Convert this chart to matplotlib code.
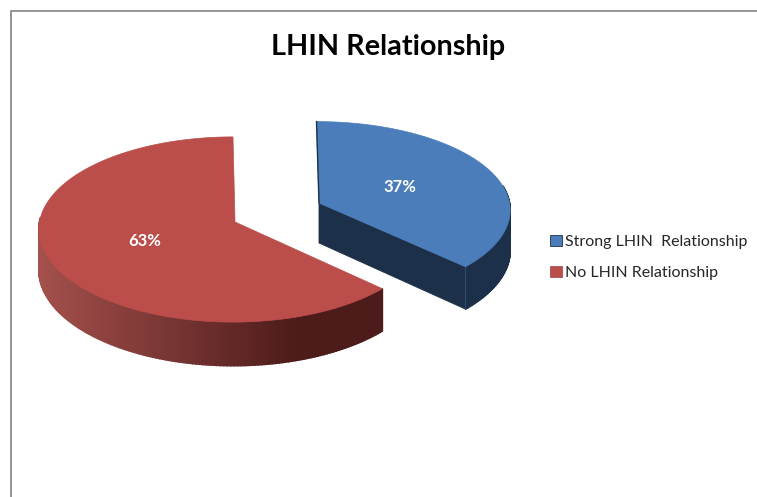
import numpy as np
import matplotlib
matplotlib.use('Agg')
import matplotlib.pyplot as plt
from matplotlib.colors import to_rgb
from matplotlib.patches import Patch

# Data
categories = ['Strong LHIN  Relationship', 'No LHIN Relationship']
values = [37, 63]
labels = ['37%', '63%']

# Look of each slice (pixel layout of the original image)
top_colors = ['#4b7dba', '#bb4e4b']
wall_left = ['#1c3049', '#a4504c']
wall_right = ['#1c3049', '#4c1b1a']
centers = [(316.5, 203), (233, 222)]
apexes = [(319, 203), (235, 222)]
radius_x = [193, 193.5]
radius_y = [88, 92]
label_pos = [(400, 186), (145, 241)]
persp = 0.081
depth = 40

plt.rcParams['font.family'] = ['Lato', 'DejaVu Sans']

fig = plt.figure(figsize=(7.57, 4.97), dpi=100)
ax = fig.add_axes([0, 0, 1, 1])
ax.set_xlim(0, 757)
ax.set_ylim(497, 0)
ax.axis('off')


# Angle is clockwise from 12 o'clock, tilted disc with a bit of perspective
def project(theta, center, rx, ry, drop=0.0):
    u, v = np.sin(theta), np.cos(theta)
    d = 1 + persp * v
    return center[0] + rx * u / d, center[1] - ry * v / d + drop / d


start = 0.0
for i, val in enumerate(values):
    end = start + 2 * np.pi * val / sum(values)
    c, rx, ry, ap = centers[i], radius_x[i], radius_y[i], apexes[i]

    # Outer wall in thin strips so it can shade from left to right
    ang = np.linspace(start, end, 240)
    vis = ang[(ang >= np.pi / 2 - 0.2) & (ang <= 3 * np.pi / 2 + 0.05)]
    c0, c1 = np.array(to_rgb(wall_left[i])), np.array(to_rgb(wall_right[i]))
    for a0, a1 in zip(vis[:-1], vis[1:]):
        x0, y0 = project(a0, c, rx, ry)
        x1, y1 = project(a1, c, rx, ry)
        x2, y2 = project(a1, c, rx, ry, depth)
        x3, y3 = project(a0, c, rx, ry, depth)
        t = np.clip((x0 - 40) / 260, 0, 1)
        col = c0 + (c1 - c0) * t
        ax.fill([x0, x1, x2, x3], [y0, y1, y2, y3], color=col, lw=1.2)

    # Cut face of the blue slice, it looks towards the viewer
    if i == 0:
        xe, ye = project(end, c, rx, ry)
        xb, yb = project(end, c, rx, ry, depth)
        ax.fill([ap[0], xe, xb, ap[0]], [ap[1], ye, yb, ap[1] + depth],
                color=wall_left[i], lw=0.6)
        ax.plot([xe, xb], [ye, yb], color='#2f4d73', lw=0.8)
        ax.plot([c[0], ap[0]], [c[1] - ry / (1 + persp), ap[1]], color='#1c3049', lw=1)

    # Top of the slice
    xs, ys = project(ang, c, rx, ry)
    ax.fill(np.r_[ap[0], xs], np.r_[ap[1], ys], color=top_colors[i], lw=0.5)
    ax.text(label_pos[i][0], label_pos[i][1] + 0.5, labels[i], color='white',
            fontsize=12, fontweight='bold', ha='center', va='center')
    start = end

# Title
ax.text(388, 46.5, 'LHIN Relationship', fontsize=20.7, fontweight='bold',
        color='black', ha='center', va='center')

# Legend
handles = [Patch(facecolor=top_colors[i], edgecolor=wall_left[i], lw=0.6)
           for i in range(len(values))]
ax.legend(handles, categories, loc='center left', bbox_to_anchor=(550, 257.5),
          bbox_transform=ax.transData, frameon=False, fontsize=11.5,
          handlelength=0.72, handleheight=0.72, handletextpad=0.2,
          labelspacing=1.07, borderpad=0, borderaxespad=0, labelcolor='#262626')

# Frame of the screenshot
ax.plot([10.5, 10.5, 757], [497, 10.5, 10.5], color='#8c8c8c', lw=1.3,
        solid_joinstyle='miter')

plt.savefig('out.png', dpi=100)
